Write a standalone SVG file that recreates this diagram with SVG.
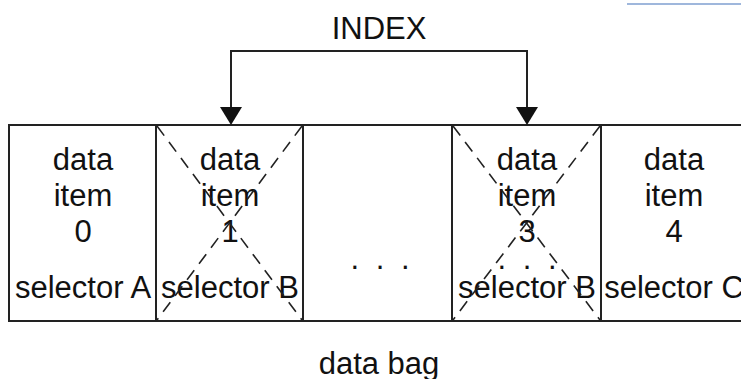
<svg xmlns="http://www.w3.org/2000/svg" width="741" height="379" viewBox="0 0 741 379">
<defs>
<style>
text{font-family:"Liberation Sans",Arial,sans-serif;font-size:31px;fill:#111;text-anchor:middle}
.box{fill:#fff;stroke:#222;stroke-width:2}
.x{stroke:#222;stroke-width:1.6;stroke-dasharray:12 8;fill:none}
.conn{stroke:#222;stroke-width:2;fill:none}
.head{fill:#111}
.dots{letter-spacing:4px}
</style>
</defs>
<rect width="741" height="379" fill="#fff"/>
<line x1="627" y1="4" x2="741" y2="4" stroke="#7f9fd0" stroke-width="1.5"/>
<g id="index-label"><text x="379" y="39">INDEX</text></g>
<g id="item0">
<rect class="box" x="9" y="125" width="147" height="196"/>
<text x="83" y="170">data</text><text x="83" y="206">item</text><text x="83" y="242">0</text>
<text x="83" y="298">selector A</text>
</g>
<g id="item1">
<rect class="box" x="156" y="125" width="147" height="196"/>
<text x="230" y="170">data</text><text x="230" y="206">item</text><text x="230" y="242">1</text>
<text x="230" y="298">selector B</text>
<line class="x" x1="157" y1="126" x2="302" y2="320"/>
<line class="x" x1="302" y1="126" x2="157" y2="320"/>
</g>
<g id="ellipsis">
<rect class="box" x="303" y="125" width="149" height="196"/>
<text class="dots" x="382" y="269">. . .</text>
</g>
<g id="item3">
<rect class="box" x="452" y="125" width="149" height="196"/>
<text x="527" y="170">data</text><text x="527" y="206">item</text><text x="527" y="242">3</text>
<text class="dots" x="529" y="269">. . .</text>
<text x="527" y="298">selector B</text>
<line class="x" x1="453" y1="126" x2="600" y2="320"/>
<line class="x" x1="600" y1="126" x2="453" y2="320"/>
</g>
<g id="item4">
<rect class="box" x="601" y="125" width="147" height="196"/>
<text x="674" y="170">data</text><text x="674" y="206">item</text><text x="674" y="242">4</text>
<text x="674" y="298">selector C</text>
</g>
<g id="connectors">
<path class="conn" d="M231,108 L231,51 L527,51 L527,108"/>
<polygon class="head" points="220,107 242,107 231,125"/>
<polygon class="head" points="516,107 538,107 527,125"/>
</g>
<g id="bag-label"><text x="379" y="374">data bag</text></g>
</svg>
